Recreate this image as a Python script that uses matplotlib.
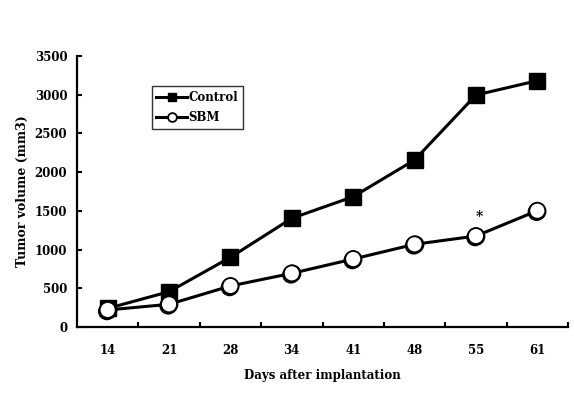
import matplotlib
matplotlib.use("Agg")
import matplotlib.pyplot as plt
import matplotlib.patheffects as pe
import numpy as np

days = ["14", "21", "28", "34", "41", "48", "55", "61"]
control = [240, 456, 900, 1404, 1683, 2157, 2996, 3181]
sbm = [220, 293, 530, 693, 878, 1068, 1175, 1502]
yticks = [0, 500, 1000, 1500, 2000, 2500, 3000, 3500]
star_index = 6
star_value = 1420

plt.rcParams['font.family'] = ['DejaVu Serif']
plt.rcParams['font.weight'] = 'bold'

fig = plt.figure(figsize=(5.74, 3.96), dpi=100)
ax = fig.add_axes([77/574, 1-327/396, (568-77)/574, (327-56)/396])

x = np.arange(len(days))
ax.plot(x, control, color='black', lw=2.2, marker='s', ms=11.5,
        mfc='black', mec='black', label='Control', zorder=3)
ax.plot(x, sbm, color='black', lw=2.2, marker='o', ms=11.5,
        mfc='white', mec='black', mew=1.3, label='SBM', zorder=4)
ax.plot(x, sbm, linestyle='none', marker='o', ms=11.5,
        mfc='white', mec='black', mew=1.3, zorder=5,
        path_effects=[pe.SimpleLineShadow(offset=(-0.6, -1.0), shadow_color='black', alpha=1.0), pe.Normal()])

ax.text(star_index + 0.05, star_value, "*", ha='center', va='center',
        fontsize=10, fontweight='bold', color='black')

ax.set_xlim(-0.5, len(days) - 0.5)
ax.set_ylim(0, 3500)
ax.set_xticks(x)
ax.set_xticklabels(days)
ax.set_xticks(np.arange(len(days)) + 0.5, minor=True)
ax.set_yticks(yticks)
ax.set_yticklabels([str(v) for v in yticks])

ax.tick_params(axis='x', which='major', length=0, pad=12, labelsize=8.5)
ax.tick_params(axis='x', which='minor', direction='in', length=3.5, width=1.5)
ax.tick_params(axis='y', which='major', direction='in', length=3.5, width=1.5, pad=7, labelsize=8.5)

for s in ['top', 'right']:
    ax.spines[s].set_visible(False)
for s in ['left', 'bottom']:
    ax.spines[s].set_linewidth(1.6)

ax.set_xlabel("Days after implantation", fontsize=8.5, fontweight='bold', labelpad=9)
ax.set_ylabel("Tumor volume (mm3)", fontsize=9, fontweight='bold', labelpad=4)

leg = ax.legend(loc='upper left', bbox_to_anchor=((151.7-77)/491, (327-86)/271),
                borderaxespad=0, fancybox=False, frameon=True, markerscale=0.55,
                handlelength=2.6, handletextpad=0.1, fontsize=8.5,
                borderpad=0.4, labelspacing=0.6)
leg.get_frame().set_edgecolor('black')
leg.get_frame().set_linewidth(1.0)

fig.savefig("out.png", dpi=100)
